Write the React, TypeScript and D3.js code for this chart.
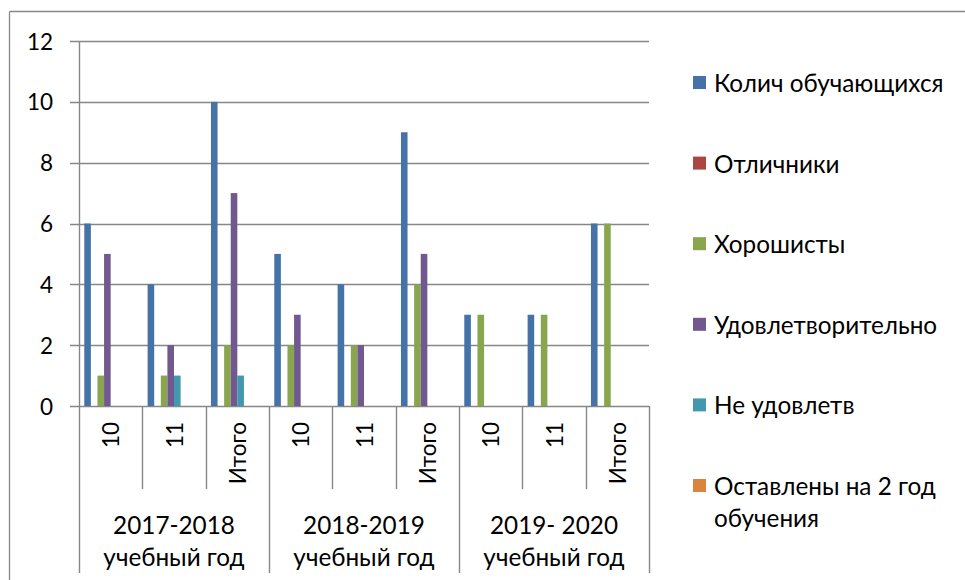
import React from "react";
import * as d3 from "d3";

const categories = ["10", "11", "Итого", "10", "11", "Итого", "10", "11", "Итого"];
const groups = [
  ["2017-2018", "учебный год"],
  ["2018-2019", "учебный год"],
  ["2019- 2020", "учебный год"],
];
const seriesNames = [
  "Колич обучающихся",
  "Отличники",
  "Хорошисты",
  "Удовлетворительно",
  "Не удовлетв",
  "Оставлены на 2 год обучения",
];
const legendLines = [
  ["Колич обучающихся"],
  ["Отличники"],
  ["Хорошисты"],
  ["Удовлетворительно"],
  ["Не удовлетв"],
  ["Оставлены на 2 год", "обучения"],
];
const kolich = [6, 4, 10, 5, 4, 9, 3, 3, 6];
const otlichniki = [0, 0, 0, 0, 0, 0, 0, 0, 0];
const horoshisty = [1, 1, 2, 2, 2, 4, 3, 3, 6];
const udovl = [5, 2, 7, 3, 2, 5, 0, 0, 0];
const neUdovl = [0, 1, 1, 0, 0, 0, 0, 0, 0];
const ostavleny = [0, 0, 0, 0, 0, 0, 0, 0, 0];
const seriesValues = [kolich, otlichniki, horoshisty, udovl, neUdovl, ostavleny];
const colors = ["#4572A7", "#AA4643", "#89A54E", "#71588F", "#4198AF", "#DB843D"];
const yTicks = [0, 2, 4, 6, 8, 10, 12];

const FONT = "Lato, 'Open Sans', sans-serif";
const FS = 22.5;
const FS_BIG = 24.3;
const GRID = "#878787";

export default function App() {
  const W = 965, H = 580;
  const left = 79, right = 649, top = 41, bottom = 406;
  const x = d3.scaleBand<number>().domain(d3.range(categories.length)).range([left, right]).padding(0);
  const y = d3.scaleLinear().domain([0, 12]).range([bottom, top]);
  const catW = x.bandwidth();
  const slot = catW / 9.6;
  const inner = (i: number) =>
    d3.scaleBand<string>().domain(seriesNames).range([x(i)! + slot * 0.8, x(i)! + slot * 0.8 + slot * 6]).padding(0);

  const groupW = catW * 3;
  return (
    <div style={{ position: "fixed", left: 0, top: 0, width: W, height: H, background: "#fff" }}>
      <svg width={W} height={H} style={{ display: "block" }} fontFamily={FONT}>
        <rect x={0} y={0} width={W} height={H} fill="#fff" />
        {/* outer chart border */}
        <line x1={9.5} y1={11.5} x2={W} y2={11.5} stroke={GRID} strokeWidth={1.3} />
        <line x1={9.5} y1={11.5} x2={9.5} y2={H} stroke={GRID} strokeWidth={1.3} />

        {/* gridlines */}
        {yTicks.map((t) => (
          <line key={"g" + t} x1={70} x2={right} y1={Math.round(y(t)) + 0.5} y2={Math.round(y(t)) + 0.5} stroke={GRID} strokeWidth={1.4} />
        ))}
        {/* y axis */}
        <line x1={left + 0.5} x2={left + 0.5} y1={top} y2={573} stroke={GRID} strokeWidth={1.4} />
        {yTicks.map((t) => (
          <text key={"t" + t} x={53} y={y(t)} textAnchor="end" dominantBaseline="central" fontSize={FS} fill="#000">
            {t}
          </text>
        ))}

        {/* bars */}
        {seriesValues.map((vals, s) =>
          vals.map((v, i) => {
            if (v <= 0) return null;
            const ib = inner(i);
            return (
              <rect
                key={s + "-" + i}
                x={ib(seriesNames[s])!}
                width={ib.bandwidth()}
                y={y(v)}
                height={y(0) - y(v)}
                fill={colors[s]}
              />
            );
          })
        )}

        {/* category separators */}
        {d3.range(1, categories.length + 1).map((k) => {
          const xx = Math.round(left + k * catW) + 0.5;
          const isGroup = k % 3 === 0;
          return <line key={"s" + k} x1={xx} x2={xx} y1={bottom} y2={isGroup ? 573 : 489} stroke={GRID} strokeWidth={1.4} />;
        })}

        {/* category labels */}
        {categories.map((c, i) => {
          const cx = x(i)! + catW / 2;
          return (
            <text key={"c" + i} transform={`translate(${cx},${422}) rotate(-90)`} textAnchor="end" dominantBaseline="central" fontSize={FS} fill="#000">
              {c}
            </text>
          );
        })}

        {/* group labels */}
        {groups.map((g, gi) => {
          const cx = left + gi * groupW + groupW / 2;
          return (
            <g key={"gr" + gi}>
              {g.map((line, li) => (
                <text key={li} x={cx} y={524 + li * 32} textAnchor="middle" dominantBaseline="central" fontSize={FS_BIG} fill="#000">
                  {line}
                </text>
              ))}
            </g>
          );
        })}

        {/* legend */}
        {legendLines.map((lines, i) => {
          const cy = 82.5 + i * 80.6;
          return (
            <g key={"l" + i}>
              <rect x={693} y={cy - 6.5} width={13} height={13} fill={colors[i]} />
              {lines.map((ln, li) => (
                <text key={li} x={714} y={cy + li * 32} dominantBaseline="central" fontSize={FS_BIG} fill="#000">
                  {ln}
                </text>
              ))}
            </g>
          );
        })}
      </svg>
    </div>
  );
}
